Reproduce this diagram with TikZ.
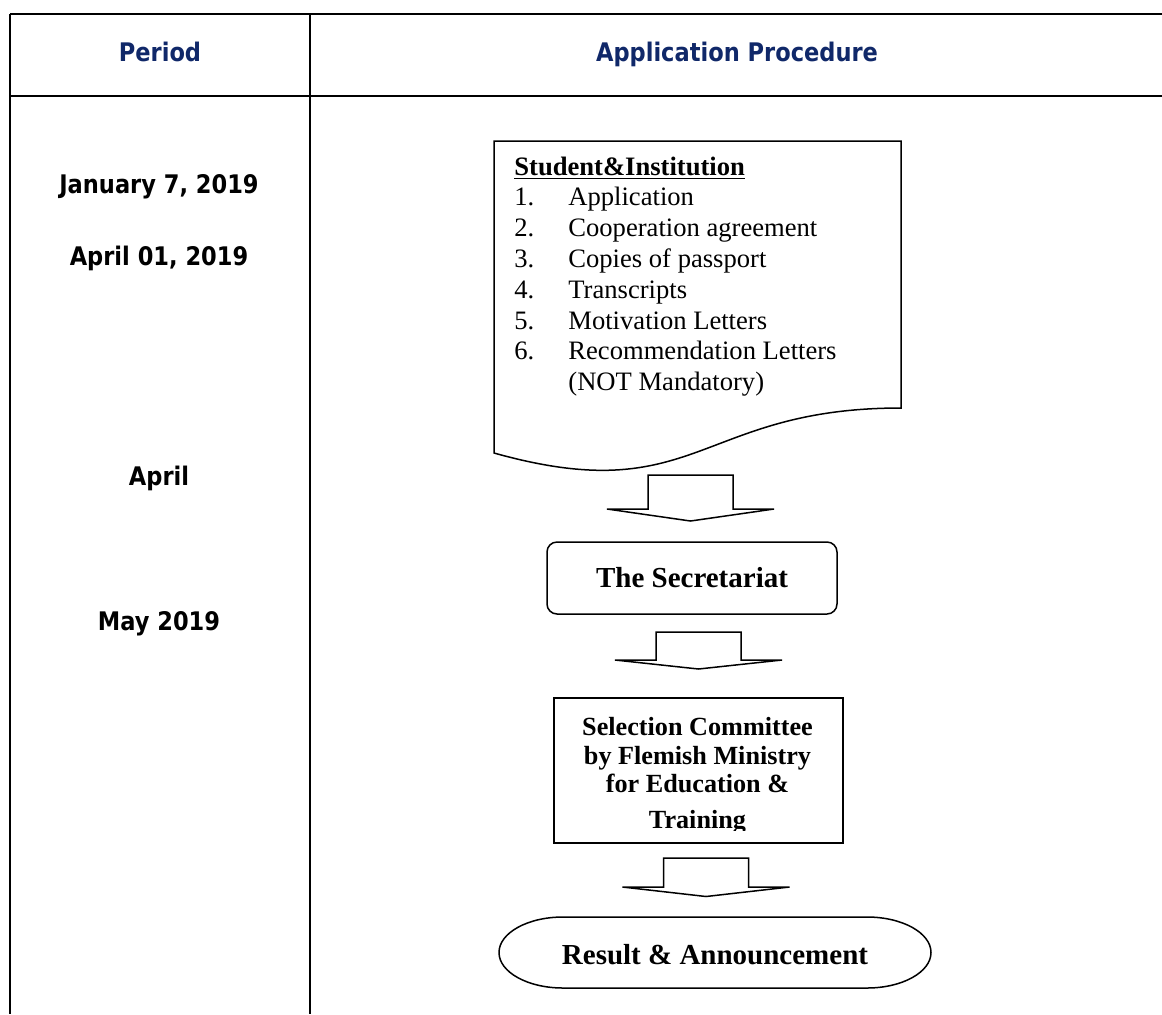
\documentclass[tikz,border=0pt]{standalone}
\usepackage{fontspec}
\setmainfont{Liberation Serif}
\newfontfamily\tabfont{DejaVu Sans}[FakeStretch=0.88]
\usepackage{xcolor}
\usetikzlibrary{calc}
\definecolor{headblue}{RGB}{16,40,105}

% block arrow pointing down: top centre, stem height, head height
\newcommand{\blockarrow}[3]{%
	\draw[flow] #1 ++(-42.5,0) -- ++(0,#2) -- ++(-41,0) -- ++(83.5,#3)
		-- ++(83.5,-#3) -- ++(-41,0) -- ++(0,-#2) -- cycle;}

\begin{document}
\begin{tikzpicture}[x=0.5pt,y=-0.5pt,
grid/.style={line width=1pt},
head/.style={font=\tabfont\bfseries\fontsize{12.8}{14}\selectfont,text=headblue,inner sep=0,anchor=base},
date/.style={font=\tabfont\bfseries\fontsize{12.8}{14}\selectfont,inner sep=0,anchor=base},
flow/.style={draw,line width=0.75pt},
box/.style={draw,line width=0.75pt,inner sep=0,font=\bfseries\fontsize{14.5}{16}\selectfont}]
	\useasboundingbox (0,0) rectangle (1162,1014);

	%table
	\draw[grid] (10,14) -- (1162,14);
	\draw[grid] (10,96) -- (1162,96);
	\draw[grid] (10,14) -- (10,1014);
	\draw[grid] (310,14) -- (310,1014);
	\node[head] (hper) at (160,61) {Period};
	\node[head] (happ) at (737,61) {Application Procedure};

	%dates
	\node[date] (d1) at (159,193) {January 7, 2019};
	\node[date] (d2) at (159,265) {April 01, 2019};
	\node[date] (d3) at (159,485) {April};
	\node[date] (d4) at (159,630) {May 2019};

	%documents
	\draw[flow] (494,141) -- (901,141) -- (901,408)
		.. controls (697.5,408) and (697.5,510) .. (494,453) -- cycle;
	\node[inner sep=0,anchor=base west,font=\fontsize{13.3}{15.4}\selectfont] (docl) at (514,175) {%
		\begin{tabular}[t]{@{}p{27pt}@{}l@{}}
		\multicolumn{2}{@{}l@{}}{\underline{\textbf{Student\&Institution}}}\\
		1. & Application\\
		2. & Cooperation agreement\\
		3. & Copies of passport\\
		4. & Transcripts\\
		5. & Motivation Letters\\
		6. & Recommendation Letters\\
		   & (NOT Mandatory)
		\end{tabular}};

	\coordinate (a1) at (690.5,475);
	\blockarrow{(a1)}{34}{12}

	%secretariat
	\node[box,rounded corners=5pt,minimum width=145pt,minimum height=36pt] (sec) at (692,578) {The Secretariat};

	\coordinate (a2) at (698.5,632);
	\blockarrow{(a2)}{28}{9}

	%committee
	\node[box,minimum width=144.5pt,minimum height=72.5pt] (sel) at (698.5,770.5) {};
	\begin{scope}
		\clip (556,700) rectangle (841,830);
		\node[inner sep=0,anchor=north,align=center,font=\bfseries\fontsize{13.1}{14.35}\selectfont] (seltxt) at (697.5,717)
			{Selection Committee\\by Flemish Ministry\\for Education \&\\[3.6pt]Training};
	\end{scope}

	\coordinate (a3) at (706,858);
	\blockarrow{(a3)}{29}{9.5}

	%result
	\draw[flow] (563,917) -- (867,917) arc[start angle=90,end angle=-90,x radius=32pt,y radius=17.75pt]
		-- (563,988) arc[start angle=270,end angle=90,x radius=32pt,y radius=17.75pt];
	\node[inner sep=0,font=\bfseries\fontsize{14.5}{16}\selectfont] (res) at (715,955) {Result \& Announcement};
\end{tikzpicture}
\end{document}
